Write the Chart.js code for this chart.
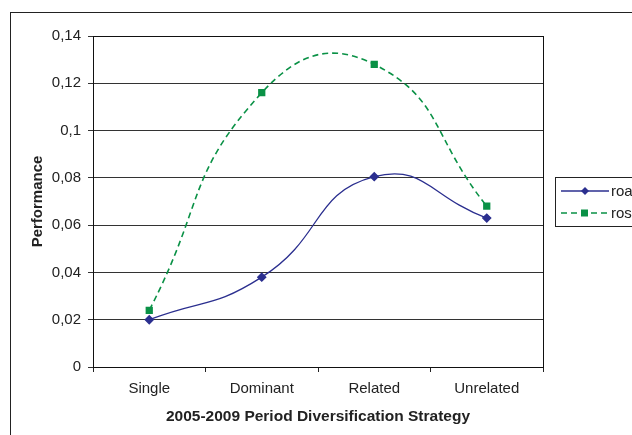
<!DOCTYPE html>
<html>
<head>
<meta charset="utf-8">
<script src="https://cdn.jsdelivr.net/npm/chart.js@4/dist/chart.umd.min.js"></script>
<style>
  html, body { margin: 0; padding: 0; background: #fff; }
  #wrap { width: 632px; height: 435px; position: relative; }
</style>
</head>
<body>
<div id="wrap"><canvas id="perfChart"></canvas></div>
<script>
// chart data
const categories = ['Single', 'Dominant', 'Related', 'Unrelated'];
const roaValues = [0.020, 0.038, 0.0805, 0.063];
const rosValues = [0.024, 0.116, 0.128, 0.068];
const seriesNames = ['roa', 'ros'];

const roaColor = '#2b2f8f';
const rosColor = '#0a9146';
const fontFamily = '"Liberation Sans", Arial, sans-serif';

// outer frame + plot border + clipped legend on the right
const framePlugin = {
  id: 'frame',
  beforeDraw(chart) {
    const ctx = chart.ctx;
    ctx.save();
    ctx.fillStyle = '#fff';
    ctx.fillRect(0, 0, chart.width, chart.height);
    ctx.strokeStyle = '#222';
    ctx.lineWidth = 1;
    ctx.strokeRect(10.5, 12.5, 700, 500);
    ctx.restore();
  },
  afterDraw(chart) {
    const ctx = chart.ctx;
    const a = chart.chartArea;
    ctx.save();
    ctx.strokeStyle = '#111';
    ctx.lineWidth = 1;
    ctx.strokeRect(Math.round(a.left) + 0.5, Math.round(a.top) + 0.5,
      Math.round(a.right - a.left), Math.round(a.bottom - a.top));

    // legend box (runs off the right edge like the original)
    ctx.strokeStyle = '#222';
    ctx.strokeRect(555.5, 177.5, 100, 49);
    chart.data.datasets.forEach((ds, i) => {
      const y = 191 + i * 22;
      ctx.strokeStyle = ds.borderColor;
      ctx.lineWidth = ds.borderWidth;
      ctx.setLineDash(ds.borderDash || []);
      ctx.beginPath();
      ctx.moveTo(561, y);
      ctx.lineTo(609, y);
      ctx.stroke();
      ctx.setLineDash([]);
      ctx.fillStyle = ds.pointBackgroundColor;
      if (ds.pointStyle === 'rectRot') {
        ctx.beginPath();
        ctx.moveTo(585, y - 4);
        ctx.lineTo(589, y);
        ctx.lineTo(585, y + 4);
        ctx.lineTo(581, y);
        ctx.closePath();
        ctx.fill();
      } else {
        ctx.fillRect(581, y - 3.5, 7, 7);
      }
      ctx.fillStyle = '#222';
      ctx.font = '15px ' + fontFamily;
      ctx.textBaseline = 'middle';
      ctx.fillText(ds.label, 611, y + 1);
    });
    ctx.restore();
  }
};

const ctx = document.getElementById('perfChart').getContext('2d');
new Chart(ctx, {
  type: 'line',
  data: {
    labels: categories,
    datasets: [{
      label: seriesNames[0],
      data: roaValues,
      borderColor: roaColor,
      backgroundColor: roaColor,
      pointBackgroundColor: roaColor,
      pointBorderColor: roaColor,
      pointStyle: 'rectRot',
      pointRadius: 4,
      borderWidth: 1.3,
      tension: 0.5,
      fill: false
    }, {
      label: seriesNames[1],
      data: rosValues,
      borderColor: rosColor,
      backgroundColor: rosColor,
      pointBackgroundColor: rosColor,
      pointBorderColor: rosColor,
      pointStyle: 'rect',
      pointRadius: 4,
      borderWidth: 1.6,
      borderDash: [6, 4],
      tension: 0.5,
      fill: false
    }]
  },
  options: {
    responsive: true,
    maintainAspectRatio: false,
    animation: false,
    layout: { padding: { top: 36, right: 89, left: 0, bottom: 0 } },
    plugins: {
      legend: { display: false },
      tooltip: { enabled: false }
    },
    scales: {
      x: {
        offset: true,
        grid: {
          offset: true,
          drawOnChartArea: false,
          drawTicks: true,
          tickLength: 5,
          color: '#222'
        },
        border: { display: false },
        ticks: {
          color: '#222',
          padding: 8,
          font: { family: fontFamily, size: 15 }
        },
        title: {
          display: true,
          text: '2005-2009 Period Diversification Strategy',
          color: '#222',
          padding: { top: 0, bottom: 9 },
          font: { family: fontFamily, size: 15.5, weight: 'bold' }
        },
        afterFit(scale) { scale.height = 68; }
      },
      y: {
        min: 0,
        max: 0.14,
        grid: {
          color: '#333',
          lineWidth: 1,
          drawTicks: true,
          tickLength: 5
        },
        border: { display: false },
        ticks: {
          stepSize: 0.02,
          color: '#222',
          padding: 7,
          font: { family: fontFamily, size: 15 },
          callback: v => String(+v.toFixed(2)).replace('.', ',')
        },
        title: {
          display: true,
          text: 'Performance',
          color: '#222',
          padding: { top: 29, bottom: 0 },
          font: { family: fontFamily, size: 15, weight: 'bold' }
        },
        afterFit(scale) { scale.width = 93; }
      }
    }
  },
  plugins: [framePlugin]
});
</script>
</body>
</html>
